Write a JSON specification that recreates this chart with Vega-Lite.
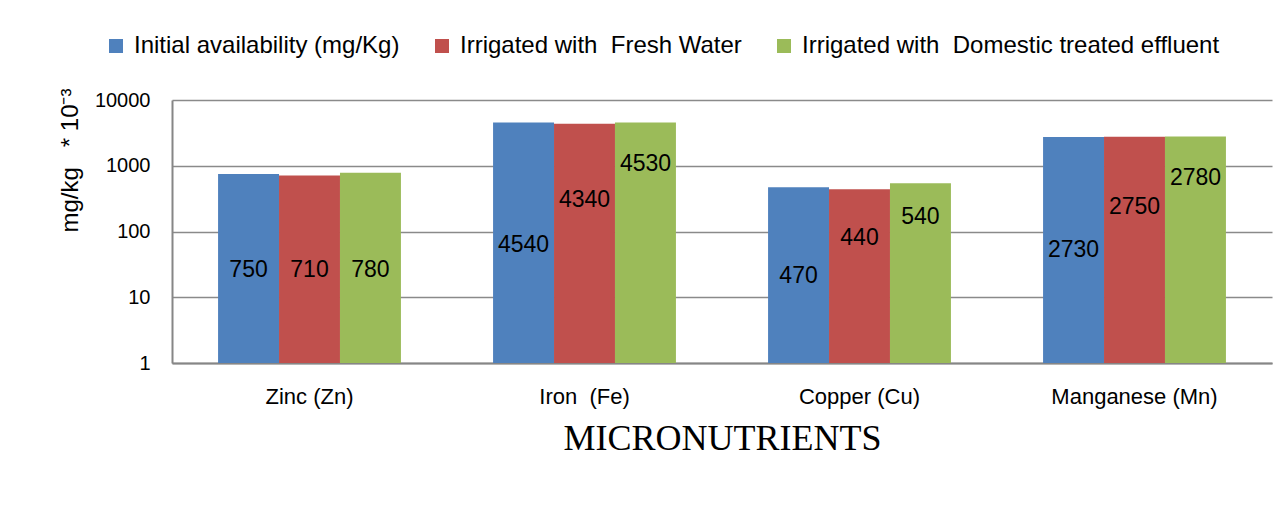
{
  "$schema": "https://vega.github.io/schema/vega-lite/v6.json",
  "width": 1100,
  "height": 263,
  "autosize": {"type": "none"},
  "padding": {"left": 172, "top": 100, "right": 16, "bottom": 155},
  "background": "white",
  "config": {"view": {"stroke": null}, "font": "Liberation Sans"},
  "data": {
    "values": [
      {"nutrient": "Zinc (Zn)", "series": "Initial availability (mg/Kg)", "value": 750, "labelAt": 26},
      {"nutrient": "Zinc (Zn)", "series": "Irrigated with\u00a0 Fresh Water", "value": 710, "labelAt": 26},
      {"nutrient": "Zinc (Zn)", "series": "Irrigated with\u00a0 Domestic treated effluent", "value": 780, "labelAt": 26},
      {"nutrient": "Iron\u00a0 (Fe)", "series": "Initial availability (mg/Kg)", "value": 4540, "labelAt": 62},
      {"nutrient": "Iron\u00a0 (Fe)", "series": "Irrigated with\u00a0 Fresh Water", "value": 4340, "labelAt": 301},
      {"nutrient": "Iron\u00a0 (Fe)", "series": "Irrigated with\u00a0 Domestic treated effluent", "value": 4530, "labelAt": 1064},
      {"nutrient": "Copper (Cu)", "series": "Initial availability (mg/Kg)", "value": 470, "labelAt": 21},
      {"nutrient": "Copper (Cu)", "series": "Irrigated with\u00a0 Fresh Water", "value": 440, "labelAt": 80},
      {"nutrient": "Copper (Cu)", "series": "Irrigated with\u00a0 Domestic treated effluent", "value": 540, "labelAt": 166},
      {"nutrient": "Manganese (Mn)", "series": "Initial availability (mg/Kg)", "value": 2730, "labelAt": 52},
      {"nutrient": "Manganese (Mn)", "series": "Irrigated with\u00a0 Fresh Water", "value": 2750, "labelAt": 236},
      {"nutrient": "Manganese (Mn)", "series": "Irrigated with\u00a0 Domestic treated effluent", "value": 2780, "labelAt": 651}
    ]
  },
  "encoding": {
    "x": {
      "field": "nutrient",
      "type": "nominal",
      "sort": ["Zinc (Zn)", "Iron\u00a0 (Fe)", "Copper (Cu)", "Manganese (Mn)"],
      "scale": {"paddingInner": 0.335, "paddingOuter": 0.1675},
      "axis": {
        "title": "MICRONUTRIENTS",
        "titleFont": "Liberation Serif",
        "titleFontSize": 36,
        "titleFontWeight": "normal",
        "titleColor": "black",
        "titlePadding": 14,
        "labelAngle": 0,
        "labelFontSize": 22,
        "labelColor": "black",
        "labelPadding": 23,
        "ticks": false,
        "domainColor": "#868686",
        "domainWidth": 2
      }
    },
    "xOffset": {
      "field": "series",
      "sort": ["Initial availability (mg/Kg)", "Irrigated with\u00a0 Fresh Water", "Irrigated with\u00a0 Domestic treated effluent"]
    }
  },
  "layer": [
    {
      "mark": {"type": "bar"},
      "encoding": {
        "y": {
          "field": "value",
          "type": "quantitative",
          "scale": {"type": "log", "domain": [1, 10000]},
          "axis": {
            "title": "mg/kg\u00a0\u00a0 * 10\u207b\u00b3",
            "titleFontSize": 24,
            "titleFontWeight": "normal",
            "titleColor": "black",
            "titleAnchor": "end",
            "titleY": -12,
            "titlePadding": 12,
            "values": [1, 10, 100, 1000, 10000],
            "format": "d",
            "labelFontSize": 20,
            "labelColor": "black",
            "labelPadding": 22,
            "ticks": false,
            "domainColor": "#868686",
            "domainWidth": 2,
            "gridColor": "#8a8a8a",
            "gridWidth": 1.5
          }
        },
        "y2": {"datum": 1},
        "color": {
          "field": "series",
          "type": "nominal",
          "sort": ["Initial availability (mg/Kg)", "Irrigated with\u00a0 Fresh Water", "Irrigated with\u00a0 Domestic treated effluent"],
          "scale": {"range": ["#4F81BD", "#C0504D", "#9BBB59"]},
          "legend": {
            "title": null,
            "orient": "none",
            "legendX": -68,
            "legendY": -66,
            "direction": "horizontal",
            "symbolType": "square",
            "symbolSize": 196,
            "symbolStrokeWidth": 0,
            "labelFontSize": 24,
            "labelColor": "black",
            "labelOffset": 6,
            "columnPadding": 30,
            "labelLimit": 600
          }
        }
      }
    },
    {
      "mark": {"type": "text", "fontSize": 23, "color": "black", "baseline": "middle"},
      "encoding": {
        "y": {"field": "labelAt", "type": "quantitative", "axis": {"title": "mg/kg\u00a0\u00a0 * 10\u207b\u00b3"}},
        "text": {"field": "value", "type": "quantitative", "format": "d"}
      }
    }
  ]
}
